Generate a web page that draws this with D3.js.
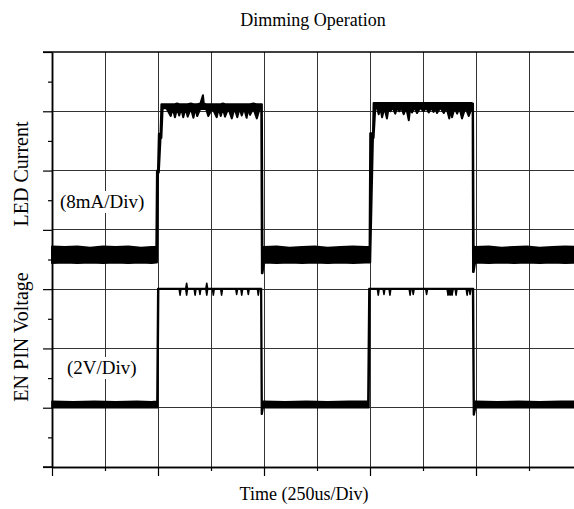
<!DOCTYPE html>
<html>
<head>
<meta charset="utf-8">
<script src="https://cdn.jsdelivr.net/npm/d3@7"></script>
<style>
  body { margin: 0; background: #fff; }
  text { font-family: "Liberation Serif", "Times New Roman", serif; fill: #000; }
</style>
</head>
<body>
<div id="chart"></div>
<script>
// time in us (250us/Div), levels in screen divisions
// each row: [time, low edge of trace, high edge of trace]
const ledTrace = [
  [0, 3.44, 3.72], [60, 3.45, 3.71], [120, 3.44, 3.72], [180, 3.45, 3.70], [240, 3.44, 3.72],
  [300, 3.45, 3.71], [360, 3.44, 3.72], [420, 3.45, 3.70], [470, 3.44, 3.71], [492, 3.45, 3.71],
  [495, 3.45, 4.99], [500, 4.95, 5.02], [504, 4.97, 5.62], [512, 5.55, 5.62], [516, 5.55, 6.12],
  [522, 6.05, 6.12], [540, 6.05, 6.12], [560, 5.92, 6.12], [570, 6.05, 6.12], [580, 5.90, 6.12],
  [590, 6.05, 6.13], [600, 5.93, 6.12], [610, 6.05, 6.12], [619, 5.90, 6.12], [630, 6.05, 6.12],
  [640, 5.91, 6.12], [655, 6.05, 6.13], [667, 5.89, 6.12], [676, 6.05, 6.12], [685, 5.92, 6.12],
  [700, 6.05, 6.13], [712, 6.04, 6.27], [716, 6.04, 6.13], [726, 6.05, 6.12], [737, 5.92, 6.12],
  [757, 6.05, 6.12], [777, 5.90, 6.12], [786, 6.05, 6.12], [796, 5.92, 6.12], [806, 6.05, 6.13],
  [816, 5.91, 6.12], [832, 6.05, 6.12], [848, 5.88, 6.12], [861, 6.05, 6.12], [874, 5.90, 6.12],
  [885, 6.05, 6.12], [895, 5.93, 6.12], [906, 6.05, 6.12], [918, 5.89, 6.12], [926, 6.05, 6.12],
  [934, 5.94, 6.12], [950, 6.05, 6.13], [966, 5.88, 6.12], [980, 6.05, 6.12], [987, 6.04, 6.12],
  [990, 3.27, 6.12], [993, 3.27, 3.71], [1000, 3.45, 3.71], [1060, 3.44, 3.72], [1120, 3.45, 3.70],
  [1180, 3.44, 3.71], [1240, 3.45, 3.72], [1300, 3.44, 3.70], [1360, 3.45, 3.71], [1420, 3.44, 3.72],
  [1480, 3.45, 3.71], [1498, 3.45, 3.71],
  [1501, 3.45, 5.63], [1514, 5.55, 5.63], [1517, 5.55, 6.14], [1525, 6.06, 6.14], [1533, 6.06, 6.14],
  [1541, 5.95, 6.14], [1549, 6.06, 6.14], [1557, 5.90, 6.14], [1568, 6.06, 6.14], [1580, 5.88, 6.14],
  [1588, 6.06, 6.14], [1596, 6.00, 6.14], [1607, 6.06, 6.14], [1619, 5.96, 6.14], [1628, 6.06, 6.14],
  [1638, 6.00, 6.14], [1648, 6.06, 6.14], [1659, 5.95, 6.14], [1671, 6.06, 6.14], [1683, 5.85, 6.14],
  [1690, 6.06, 6.14], [1698, 5.98, 6.14], [1710, 6.06, 6.14], [1722, 5.97, 6.14], [1737, 6.06, 6.14],
  [1753, 6.00, 6.14], [1765, 6.06, 6.14], [1777, 5.98, 6.14], [1788, 6.06, 6.14], [1800, 5.99, 6.14],
  [1808, 6.06, 6.14], [1816, 5.97, 6.14], [1832, 6.06, 6.14], [1848, 5.97, 6.14], [1861, 6.06, 6.14],
  [1874, 5.88, 6.14], [1880, 6.04, 6.14], [1887, 5.90, 6.14], [1899, 6.06, 6.14], [1911, 5.96, 6.14],
  [1922, 6.06, 6.14], [1934, 5.88, 6.14], [1950, 6.06, 6.14], [1966, 5.92, 6.14], [1980, 6.06, 6.14],
  [1984, 6.05, 6.13], [1986, 3.29, 6.13], [1989, 3.29, 3.72], [1996, 3.45, 3.71], [2060, 3.44, 3.72],
  [2120, 3.45, 3.70], [2180, 3.44, 3.71], [2240, 3.45, 3.72], [2300, 3.44, 3.70], [2360, 3.45, 3.71],
  [2420, 3.44, 3.72], [2500, 3.45, 3.71]
];

const enTrace = [
  [0, 1.00, 1.11], [100, 1.00, 1.10], [200, 1.00, 1.11], [300, 1.00, 1.10], [400, 1.00, 1.11],
  [470, 1.00, 1.10], [495, 1.00, 1.11],
  [499, 1.00, 3.01], [503, 3.00, 3.01], [600, 3.00, 3.01], [604, 2.90, 3.01], [608, 3.00, 3.01],
  [631, 3.00, 3.01], [635, 2.90, 3.10], [639, 3.00, 3.01], [671, 3.00, 3.01], [675, 2.90, 3.01],
  [679, 3.00, 3.01], [694, 3.00, 3.01], [698, 2.91, 3.01], [702, 3.00, 3.01], [726, 3.00, 3.01],
  [730, 2.90, 3.10], [734, 3.00, 3.01], [757, 3.00, 3.01], [761, 2.90, 3.01], [765, 3.00, 3.01],
  [796, 3.00, 3.01], [800, 2.90, 3.01], [804, 3.00, 3.01], [867, 3.00, 3.01], [871, 2.91, 3.01],
  [875, 3.00, 3.01], [891, 3.00, 3.01], [895, 2.90, 3.01], [899, 3.00, 3.01], [922, 3.00, 3.01],
  [926, 2.91, 3.01], [930, 3.00, 3.01], [969, 3.00, 3.01], [973, 2.90, 3.01], [977, 3.00, 3.01],
  [985, 3.00, 3.01], [988, 0.89, 3.01], [991, 0.89, 1.11], [996, 1.00, 1.11], [1100, 1.00, 1.10],
  [1200, 1.00, 1.11], [1300, 1.00, 1.10], [1400, 1.00, 1.11], [1490, 1.00, 1.11],
  [1495, 1.00, 3.01], [1499, 3.00, 3.01], [1535, 3.00, 3.01], [1539, 2.90, 3.01], [1543, 3.00, 3.01],
  [1562, 3.00, 3.01], [1566, 2.91, 3.01], [1570, 3.00, 3.01], [1590, 3.00, 3.01], [1594, 2.90, 3.01],
  [1598, 3.00, 3.01], [1685, 3.00, 3.01], [1689, 2.90, 3.01], [1693, 3.00, 3.01], [1700, 3.00, 3.01],
  [1704, 2.91, 3.01], [1708, 3.00, 3.01], [1763, 3.00, 3.01], [1767, 2.91, 3.01], [1771, 3.00, 3.01],
  [1864, 3.00, 3.01], [1868, 2.90, 3.01], [1873, 2.92, 3.01], [1878, 2.90, 3.01], [1883, 2.92, 3.01],
  [1887, 2.90, 3.01], [1892, 3.00, 3.01], [1902, 3.00, 3.01], [1906, 2.90, 3.01], [1910, 3.00, 3.01],
  [1954, 3.00, 3.01], [1958, 2.90, 3.01], [1962, 3.00, 3.01], [1968, 3.00, 3.01], [1972, 2.91, 3.01],
  [1976, 3.00, 3.01], [1984, 3.00, 3.01], [1988, 0.88, 3.01], [1991, 0.88, 1.11], [1998, 1.00, 1.11],
  [2100, 1.00, 1.10], [2200, 1.00, 1.11], [2300, 1.00, 1.10], [2400, 1.00, 1.11], [2500, 1.00, 1.11]
];

const xMajorTicks = [0, 500, 1000, 1500, 2000, 2500];
const xMinorTicks = [250, 750, 1250, 1750, 2250];
const yMajorTicks = [0, 1, 2, 3, 4, 5, 6, 7];
const yMinorTicks = [0.5, 1.5, 2.5, 3.5, 4.5, 5.5, 6.5];

const titleText = "Dimming Operation";
const xLabel = "Time (250us/Div)";
const ledLabel = "LED Current";
const ledScale = "(8mA/Div)";
const enLabel = "EN PIN Voltage";
const enScale = "(2V/Div)";

let width = 574;
let height = 509;
let plotLeft = 52, plotTop = 52, plotRight = 582, plotBottom = 467;

let x = d3.scaleLinear().domain([0, 2500]).range([plotLeft, plotRight]);
let y = d3.scaleLinear().domain([0, 7]).range([plotBottom, plotTop]);

var svg = d3.select("#chart").append("svg")
  .attr("width", width)
  .attr("height", height);

// grid
let grid = svg.append("g").attr("stroke", "#333").attr("stroke-width", 1)
  .attr("shape-rendering", "crispEdges");
grid.selectAll(".vg")
  .data(d3.range(250, 2500, 250))
  .enter().append("line")
  .attr("x1", d => x(d)).attr("x2", d => x(d))
  .attr("y1", plotTop).attr("y2", plotBottom);
grid.selectAll(".hg")
  .data(d3.range(1, 7))
  .enter().append("line")
  .attr("x1", plotLeft).attr("x2", plotRight)
  .attr("y1", d => y(d)).attr("y2", d => y(d));

// labels inside the plot sit on white
function boxedText(tx, ty, str) {
  let g = svg.append("g");
  let t = g.append("text")
    .attr("x", tx).attr("y", ty)
    .attr("font-size", 19)
    .text(str);
  let b = t.node().getBBox();
  g.insert("rect", "text")
    .attr("x", b.x - 2).attr("y", b.y)
    .attr("width", b.width + 4).attr("height", b.height)
    .attr("fill", "#fff");
}
boxedText(60, 208, ledScale);
boxedText(67, 374, enScale);

// axes
let axisStyle = g => {
  g.select(".domain").attr("stroke", "#000").attr("stroke-width", 1.5);
  g.selectAll(".tick line").attr("stroke", "#000").attr("stroke-width", 1.2);
};

svg.append("g")
  .attr("transform", `translate(${plotLeft},0)`)
  .call(d3.axisLeft(y).tickValues(yMajorTicks).tickSize(9).tickSizeOuter(0).tickFormat(""))
  .call(axisStyle);
svg.append("g")
  .attr("transform", `translate(${plotLeft},0)`)
  .call(d3.axisLeft(y).tickValues(yMinorTicks).tickSize(4).tickSizeOuter(0).tickFormat(""))
  .call(axisStyle);
svg.append("g")
  .attr("transform", `translate(0,${plotBottom})`)
  .call(d3.axisBottom(x).tickValues(xMajorTicks).tickSize(9).tickSizeOuter(0).tickFormat(""))
  .call(axisStyle);
svg.append("g")
  .attr("transform", `translate(0,${plotBottom})`)
  .call(d3.axisBottom(x).tickValues(xMinorTicks).tickSize(4).tickSizeOuter(0).tickFormat(""))
  .call(axisStyle);

// top frame line
svg.append("line")
  .attr("x1", plotLeft - 9).attr("x2", plotRight)
  .attr("y1", y(7)).attr("y2", y(7))
  .attr("stroke", "#000").attr("stroke-width", 1.5);
svg.append("line")
  .attr("x1", plotLeft - 9).attr("x2", plotLeft)
  .attr("y1", y(0)).attr("y2", y(0))
  .attr("stroke", "#000").attr("stroke-width", 1.5);

// traces
let band = d3.area()
  .x(d => x(d[0]))
  .y0(d => y(d[1]))
  .y1(d => y(d[2]));

svg.append("path")
  .attr("d", band(ledTrace))
  .attr("fill", "#000")
  .attr("stroke", "#000")
  .attr("stroke-width", 2)
  .attr("stroke-linejoin", "round");

svg.append("path")
  .attr("d", band(enTrace))
  .attr("fill", "#000")
  .attr("stroke", "#000")
  .attr("stroke-width", 1.6)
  .attr("stroke-linejoin", "round");

// text
svg.append("text")
  .attr("x", 313).attr("y", 26)
  .attr("text-anchor", "middle")
  .attr("font-size", 18)
  .text(titleText);

svg.append("text")
  .attr("x", 304).attr("y", 500)
  .attr("text-anchor", "middle")
  .attr("font-size", 18)
  .text(xLabel);

svg.append("text")
  .attr("transform", "translate(28,174) rotate(-90)")
  .attr("text-anchor", "middle")
  .attr("font-size", 20)
  .text(ledLabel);

svg.append("text")
  .attr("transform", "translate(28,337) rotate(-90)")
  .attr("text-anchor", "middle")
  .attr("font-size", 20)
  .text(enLabel);
</script>
</body>
</html>
